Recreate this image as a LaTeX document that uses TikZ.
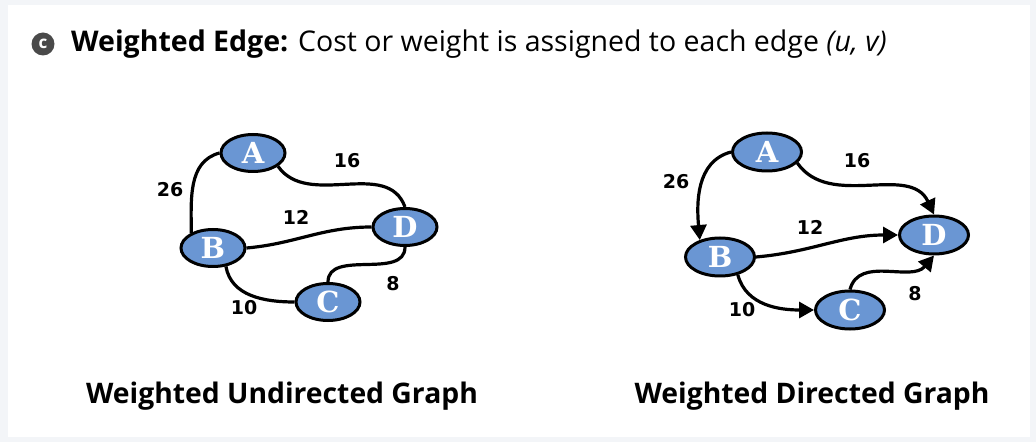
\documentclass[tikz,border=0pt]{standalone}
\usepackage{fontspec}
\setmainfont{Open Sans}
\newfontfamily\labfont{DejaVu Sans}
\newfontfamily\nodefont{DejaVu Serif}
\usetikzlibrary{shapes.geometric,arrows.meta}
\definecolor{bgray}{HTML}{F3F5F8}
\definecolor{nodeblue}{HTML}{6A96D3}
\definecolor{badge}{HTML}{4A4A4A}
\tikzset{
  gnode/.style={ellipse,draw=black,line width=3pt,fill=nodeblue,inner sep=0pt,
     minimum width=64pt,minimum height=37pt,text=white,font=\nodefont\bfseries\fontsize{29}{29}\selectfont},
  dnode/.style={gnode,minimum width=69pt,minimum height=38pt},
  gedge/.style={line width=3.2pt,black},
  garc/.style={gedge,-{Triangle[length=15pt,width=16pt]}},
  wlab/.style={font=\labfont\bfseries\fontsize{19}{19}\selectfont},
  captext/.style={font=\bfseries\fontsize{28.3}{28.3}\selectfont},
}
\begin{document}
\begin{tikzpicture}[x=1pt,y=1pt]
\useasboundingbox (0,0) rectangle (1036,442);
\fill[bgray] (0,0) rectangle (1036,442);
\fill[white] (8,5) rectangle (1030,437);
% title
\node[circle,fill=badge,minimum size=23pt,inner sep=0pt,text=white,font=\bfseries\fontsize{17}{17}\selectfont] (badge) at (43,398) {c};
\node[anchor=west,inner sep=0pt,font=\fontsize{28.5}{28.5}\selectfont] (title) at (71,398) {\textbf{Weighted Edge:} Cost or weight is assigned to each edge \textit{(u, v)}};
% undirected
\node[gnode] (A) at (253,289) {A};
\node[gnode] (B) at (213,194) {B};
\node[gnode] (C) at (328,140) {C};
\node[gnode] (D) at (405,215) {D};
\draw[gedge] (A.west) to[out=195,in=90] (B.145);
\draw[gedge] (A.-28) to[out=-55,in=110] (D.north);
\draw[gedge] (B.east) to[out=5,in=180] (D.west);
\draw[gedge] (B.-55) to[out=-80,in=180] (C.west);
\draw[gedge] (C.north) to[out=90,in=-90] (D.south);
\node[wlab] (w26) at (170,252) {26};
\node[wlab] (w16) at (347,281) {16};
\node[wlab] (w12) at (296,225) {12};
\node[wlab] (w10) at (244,134) {10};
\node[wlab] (w8) at (393,158) {8};
\node[captext] (cap1) at (282,46) {Weighted Undirected Graph};
% directed
\node[dnode] (dA) at (767,290) {A};
\node[dnode] (dB) at (720,185) {B};
\node[dnode] (dC) at (850,132) {C};
\node[dnode] (dD) at (934,207) {D};
\draw[garc] (dA.west) to[out=195,in=95] (dB.140);
\draw[garc] (dA.-20) to[out=-55,in=115] (dD.north);
\draw[garc] (dB.east) to[out=5,in=180] (dD.west);
\draw[garc] (dB.-45) to[out=-75,in=180] (dC.west);
\draw[garc] (dC.north) to[out=75,in=-130] (dD.south);
\node[wlab] (dw26) at (676,260) {26};
\node[wlab] (dw16) at (857,281) {16};
\node[wlab] (dw12) at (810,215) {12};
\node[wlab] (dw10) at (742,132) {10};
\node[wlab] (dw8) at (915,148) {8};
\node[captext] (cap2) at (812,46) {Weighted Directed Graph};
\end{tikzpicture}
\end{document}
